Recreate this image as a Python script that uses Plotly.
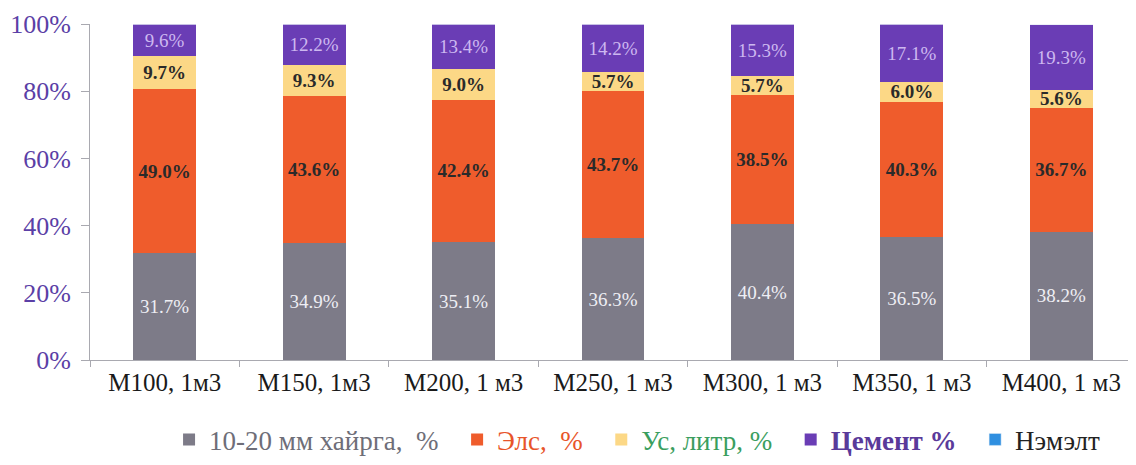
import plotly.graph_objects as go

categories = ["М100, 1м3", "М150, 1м3", "М200, 1 м3", "М250, 1 м3", "М300, 1 м3", "М350, 1 м3", "М400, 1 м3"]
gravel = [31.7, 34.9, 35.1, 36.3, 40.4, 36.5, 38.2]
sand = [49.0, 43.6, 42.4, 43.7, 38.5, 40.3, 36.7]
water = [9.7, 9.3, 9.0, 5.7, 5.7, 6.0, 5.6]
cement = [9.6, 12.2, 13.4, 14.2, 15.3, 17.1, 19.3]
additive = [0, 0, 0, 0, 0, 0, 0]
y_ticks = [0, 20, 40, 60, 80, 100]
y_tick_labels = ["0%", "20%", "40%", "60%", "80%", "100%"]

FONT = "Liberation Serif"
NB = "\u00a0"

series = [
    (gravel, f"<span style='color:#6e6e78'>10-20 мм хайрга,{NB}{NB}%{NB}{NB}</span>", "#7d7b88", "#eeeef4", False),
    (sand, f"<span style='color:#e8552a'>Элс,{NB}{NB}%{NB}{NB}</span>", "#ef5c2c", "#2a2a2a", True),
    (water, f"<span style='color:#3a9e5e'>Ус, литр, %{NB}{NB}</span>", "#fcd886", "#2a2a2a", True),
    (cement, f"<span style='color:#5a3a9a'><b>Цемент %</b>{NB}{NB}</span>", "#6a3db5", "#cdb8f0", False),
]

fig = go.Figure()
for vals, name, color, tcolor, bold in series:
    fig.add_trace(go.Bar(
        x=categories, y=vals, name=name,
        marker=dict(color=color, line=dict(width=0)),
        text=[(f"<b>{v:.1f}%</b>" if bold else f"{v:.1f}%") for v in vals],
        texttemplate="%{text}",
        textposition="inside", insidetextanchor="middle", textangle=0,
        textfont=dict(family=FONT, size=19, color=tcolor),
        hoverinfo="skip",
    ))
fig.add_trace(go.Bar(
    x=categories, y=additive, name="<span style='color:#222222'>Нэмэлт</span>",
    marker=dict(color="#2f8fe0"), hoverinfo="skip",
))

fig.update_layout(
    width=1128, height=457,
    barmode="stack", bargap=0.58,
    plot_bgcolor="white", paper_bgcolor="white",
    margin=dict(l=82, r=0, t=16, b=105, autoexpand=False),
    font=dict(family=FONT, size=20, color="#222222"),
    uniformtext=dict(minsize=19, mode="show"),
    legend=dict(
        orientation="h", xref="paper", x=0.523, xanchor="center",
        yref="container", y=0.055, yanchor="middle",
        font=dict(family=FONT, size=27),
        itemwidth=30, traceorder="normal",
    ),
    showlegend=True,
)
fig.update_xaxes(
    automargin=False,
    showline=True, linecolor="#a9a9b0", linewidth=1,
    ticks="outside", tickson="boundaries", ticklen=6, tickcolor="#a9a9b0",
    tickfont=dict(family=FONT, size=25, color="#1a1a1a"),
    showgrid=False,
)
fig.update_yaxes(
    automargin=False,
    range=[0, 100], tickmode="array", tickvals=y_ticks, ticktext=y_tick_labels,
    showline=True, linecolor="#a9a9b0", linewidth=1,
    ticks="outside", ticklen=8, tickcolor="#a9a9b0",
    ticklabelstandoff=5,
    tickfont=dict(family=FONT, size=26, color="#5b3fa6"),
    showgrid=False, zeroline=False,
)

fig.write_html("out.html")
